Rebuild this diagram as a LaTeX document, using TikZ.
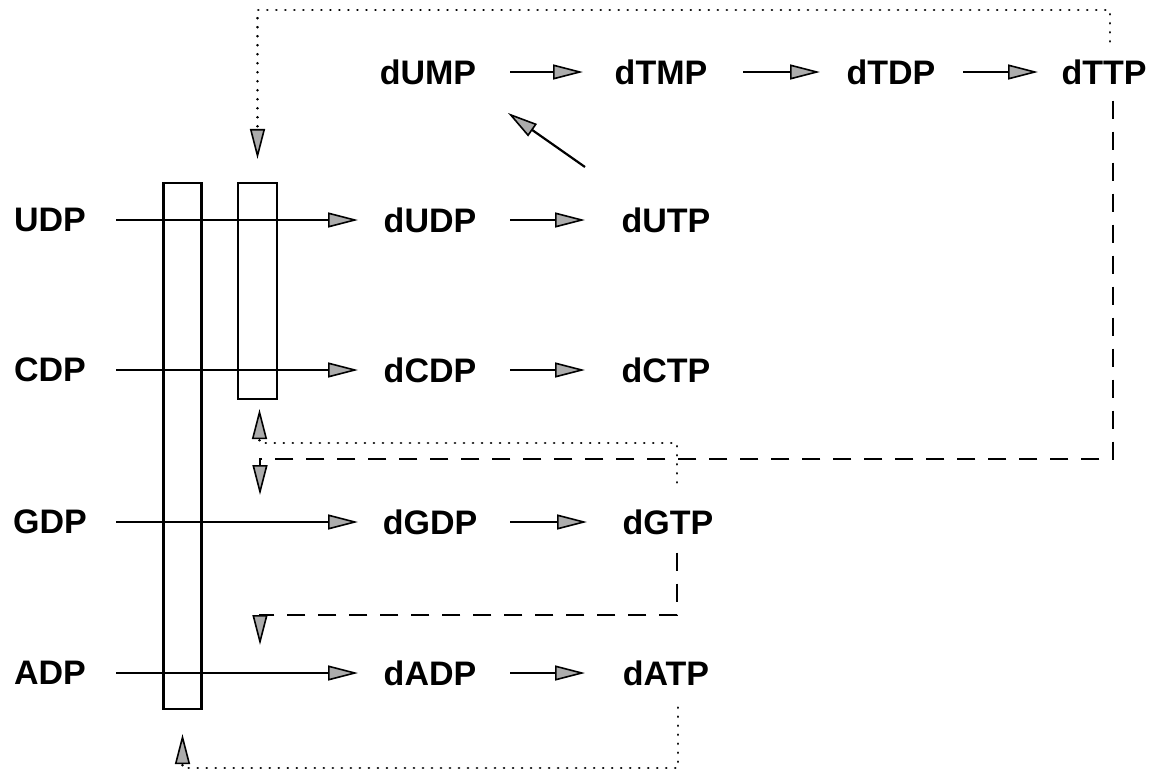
\documentclass[tikz,border=0pt]{standalone}
\usepackage{fontspec}
\setmainfont{Liberation Sans}
\usetikzlibrary{arrows.meta}
\begin{document}
\begin{tikzpicture}[x=1pt,y=-1pt,
  lbl/.style={inner sep=0pt, font=\fontsize{34}{40}\selectfont\bfseries},
  bar/.style={draw, line width=2.2pt, inner sep=0pt},
  tipstyle/.style={-{Triangle[length=30pt,width=15pt,fill=gray!65,line width=1.6pt]}},
  arr/.style={draw, line width=2.2pt, tipstyle},
  dashline/.style={draw, line width=2.4pt, dash pattern=on 18pt off 13pt, tipstyle},
  dotline/.style={draw, line width=2.8pt, line cap=round, dash pattern=on 0.01pt off 9pt, tipstyle}
]
\useasboundingbox (0,0) rectangle (1160,774);

% rectangles
\node[bar, minimum width=38pt, minimum height=526pt] (r1) at (182.5,446) {};
\node[bar, minimum width=39pt, minimum height=216pt] (r2) at (257.5,291) {};

% left labels
\node[lbl] (UDP) at (50,220) {UDP};
\node[lbl] (CDP) at (50,370) {CDP};
\node[lbl] (GDP) at (50,522) {GDP};
\node[lbl] (ADP) at (50,673) {ADP};

% middle columns
\node[lbl] (dUDP) at (430,220) {dUDP};
\node[lbl] (dCDP) at (430,370) {dCDP};
\node[lbl] (dGDP) at (430,522) {dGDP};
\node[lbl] (dADP) at (430,673) {dADP};
\node[lbl] (dUTP) at (666,220) {dUTP};
\node[lbl] (dCTP) at (666,370) {dCTP};
\node[lbl] (dGTP) at (668,522) {dGTP};
\node[lbl] (dATP) at (666,673) {dATP};

% top row
\node[lbl] (dUMP) at (428,72) {dUMP};
\node[lbl] (dTMP) at (661,72) {dTMP};
\node[lbl] (dTDP) at (891,72) {dTDP};
\node[lbl] (dTTP) at (1104,72) {dTTP};

% helper coordinates
\coordinate (ltop) at (0,10);
\coordinate (l0) at (0,443);
\coordinate (l1) at (0,459);
\coordinate (l2) at (0,615);
\coordinate (l3) at (0,768);
\coordinate (gin) at (260,495);
\coordinate (ain) at (260,645);

% long arrows through the bars
\foreach \a/\b in {UDP/dUDP, CDP/dCDP, GDP/dGDP, ADP/dADP}
  \draw[arr, shorten <=66pt, shorten >=72pt] (\a.center) -- (\b.center);

% short arrows
\foreach \a/\b in {dUDP/dUTP, dCDP/dCTP, dGDP/dGTP, dADP/dATP}
  \draw[arr, shorten <=80pt, shorten >=81pt] (\a.center) -- (\b.center);

\draw[arr, shorten <=82pt, shorten >=78pt] (dUMP.center) -- (dTMP.center);
\draw[arr, shorten <=82pt, shorten >=71pt] (dTMP.center) -- (dTDP.center);
\draw[arr, shorten <=72pt, shorten >=66pt] (dTDP.center) -- (dTTP.center);

% diagonal arrow dUTP -> dUMP
\draw[arr] ([xshift=-81pt,yshift=53pt]dUTP.center) -- ([xshift=80pt,yshift=-41pt]dUMP.center);

% feedback: dTTP (dotted) to top of r2
\draw[dotline] ([xshift=6pt,yshift=18pt]dTTP.north) |- (r2.north |- ltop) -- ([yshift=23pt]r2.north);

% feedback: dTTP (dashed) down to GDP line
\draw[dashline] ([xshift=9pt,yshift=-16pt]dTTP.south) |- (gin |- l1) -- (gin);

% feedback: dGTP (dotted) up to bottom of r2
\draw[dotline] ([xshift=9pt,yshift=27pt]dGTP.north) |- ([xshift=2pt]r2.south |- l0) -- ([xshift=2pt,yshift=-9pt]r2.south);

% feedback: dGTP (dashed) down to ADP line
\draw[dashline] ([xshift=9pt,yshift=-18pt]dGTP.south) |- (ain |- l2) -- (ain);

% feedback: dATP (dotted) to bottom of r1
\draw[dotline] ([xshift=12pt,yshift=-22pt]dATP.south) |- (r1.south |- l3) -- ([yshift=-24pt]r1.south);
\end{tikzpicture}
\end{document}
